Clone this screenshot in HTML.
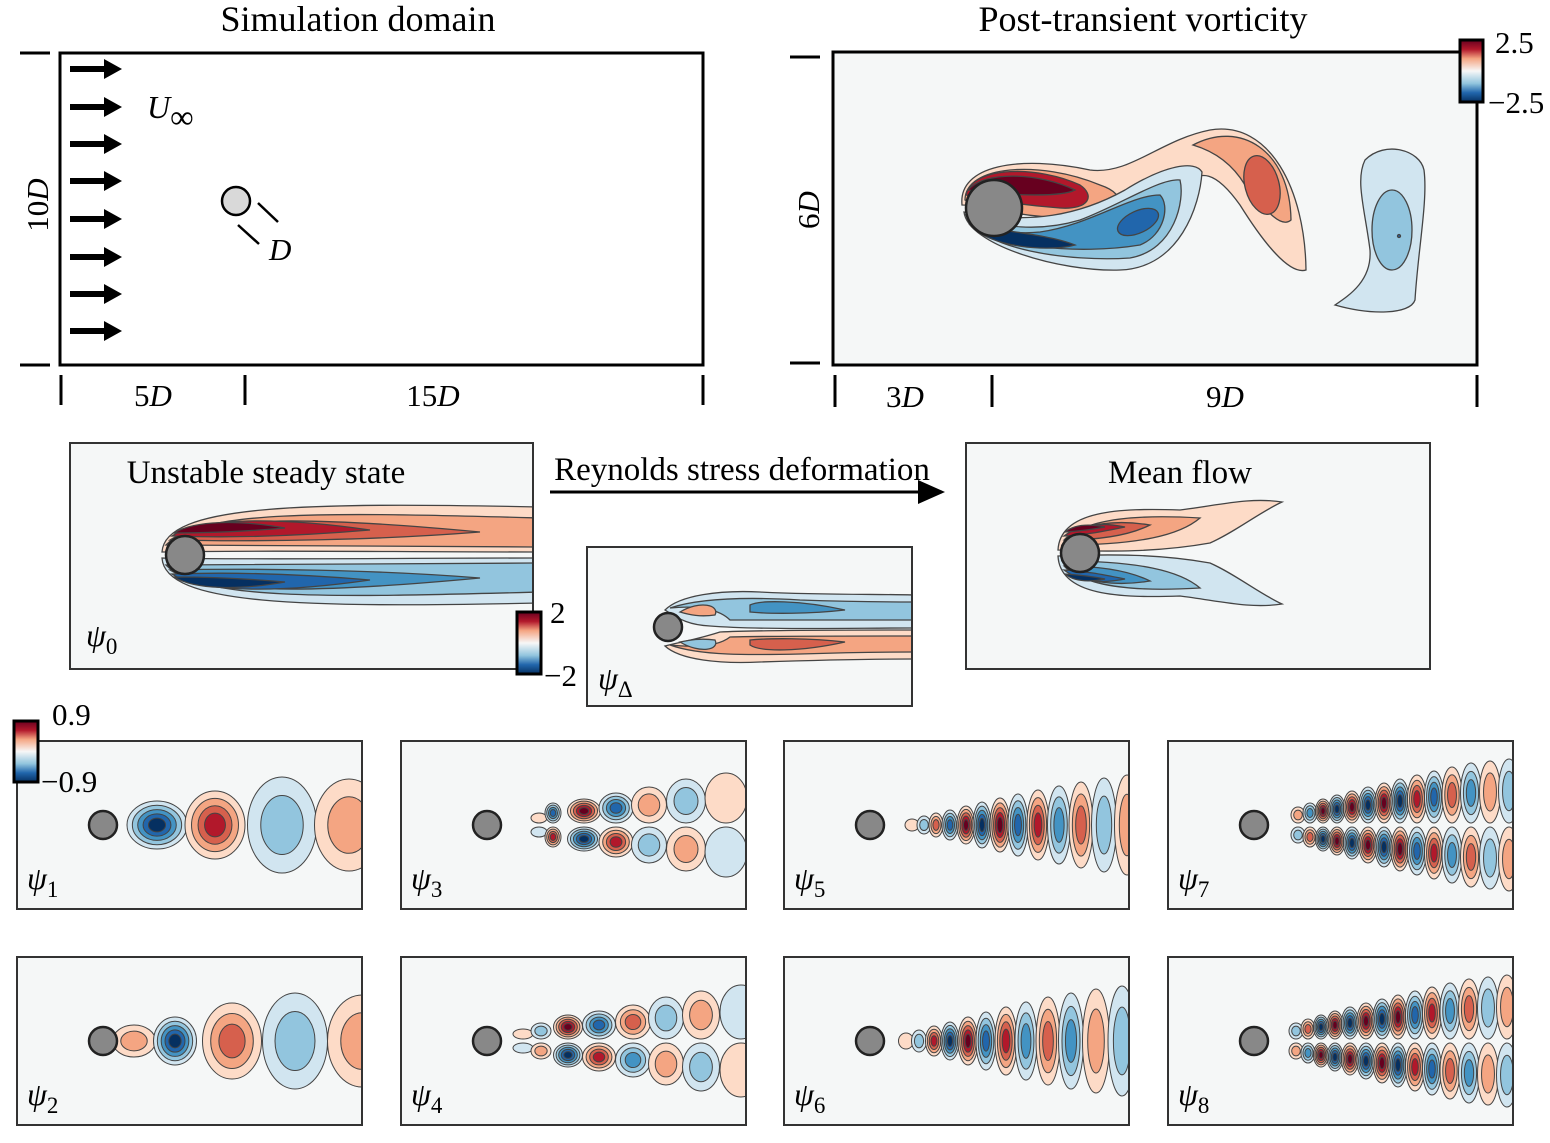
<!DOCTYPE html>
<html><head><meta charset="utf-8"><style>
html,body{margin:0;padding:0;background:#fff;}
svg{display:block;font-family:"Liberation Serif",serif;}
</style></head><body>
<svg id="fig" width="1550" height="1143" viewBox="0 0 1550 1143" xmlns="http://www.w3.org/2000/svg">
<defs>
<linearGradient id="cbar" x1="0" y1="0" x2="0" y2="1">
<stop offset="0" stop-color="#67001f"/><stop offset="0.15" stop-color="#b2182b"/><stop offset="0.3" stop-color="#f4a582"/><stop offset="0.5" stop-color="#f7f7f7"/><stop offset="0.7" stop-color="#92c5de"/><stop offset="0.85" stop-color="#2166ac"/><stop offset="1" stop-color="#053061"/>
</linearGradient>
<marker id="ah" markerWidth="10" markerHeight="10" refX="8" refY="5" orient="auto"><path d="M0,1 L9,5 L0,9 Z" fill="#000"/></marker>
</defs>

<!-- Simulation domain -->
<g>
<text x="358" y="31" font-size="36" text-anchor="middle">Simulation domain</text>
<rect x="60" y="53" width="643" height="312" fill="#fff" stroke="#000" stroke-width="3"/>
<line x1="20" y1="53" x2="50" y2="53" stroke="#000" stroke-width="3"/>
<line x1="20" y1="365" x2="50" y2="365" stroke="#000" stroke-width="3"/>
<text x="48" y="205" font-size="31" font-style="italic" text-anchor="middle" transform="rotate(-90 48 205)"><tspan font-style="normal">10</tspan>D</text>
<g id="arrows"></g>
<text x="147" y="118" font-size="32" font-style="italic">U<tspan font-style="normal" font-size="33" dy="10">∞</tspan></text>
<circle cx="236" cy="201" r="14" fill="#d9d9d9" stroke="#000" stroke-width="2.5"/>
<line x1="258" y1="203" x2="278" y2="222" stroke="#000" stroke-width="2.5"/>
<line x1="238" y1="225" x2="259" y2="244" stroke="#000" stroke-width="2.5"/>
<text x="269" y="260" font-size="31" font-style="italic">D</text>
<line x1="61" y1="375" x2="61" y2="405" stroke="#000" stroke-width="3"/>
<line x1="245" y1="375" x2="245" y2="405" stroke="#000" stroke-width="3"/>
<line x1="703" y1="375" x2="703" y2="405" stroke="#000" stroke-width="3"/>
<text x="153" y="406" font-size="31" text-anchor="middle">5<tspan font-style="italic">D</tspan></text>
<text x="433" y="406" font-size="31" text-anchor="middle">15<tspan font-style="italic">D</tspan></text>
</g>

<!-- Post-transient vorticity -->
<g>
<text x="1143" y="31" font-size="36" text-anchor="middle">Post-transient vorticity</text>
<clipPath id="cv"><rect x="833" y="52" width="644" height="313"/></clipPath>
<rect x="833" y="52" width="644" height="313" fill="#f5f7f7"/>
<g clip-path="url(#cv)" stroke="#444" stroke-width="1.3">
<path fill="#fddbc7" d="M962,205 C958,165 1020,155 1090,170 C1130,175 1160,140 1210,130 C1270,120 1305,190 1306,270 C1290,275 1265,245 1240,205 C1215,170 1200,170 1185,185 C1150,215 1100,222 1060,218 C1020,212 990,205 962,205 Z"/>
<path fill="#f4a582" d="M965,200 C965,165 1040,160 1100,185 C1130,195 1125,215 1075,218 C1030,218 990,210 965,200 Z"/>
<path fill="#f4a582" d="M1193,145 C1240,120 1290,150 1291,220 C1280,230 1262,205 1245,185 C1230,160 1210,150 1193,145 Z"/>
<ellipse cx="1262" cy="185" rx="17" ry="30" transform="rotate(-15 1262 185)" fill="#d6604d"/>
<path fill="#b2182b" d="M966,195 C972,165 1040,166 1080,185 C1095,195 1090,210 1060,208 C1020,205 990,200 966,195 Z"/>
<path fill="#67001f" d="M968,190 C985,170 1040,173 1075,190 C1060,198 1000,195 968,190 Z"/>
<path fill="#d1e5f0" d="M964,212 C968,245 1060,272 1120,270 C1180,268 1200,205 1202,172 C1195,160 1165,165 1125,190 C1080,215 1030,225 964,212 Z"/>
<path fill="#92c5de" d="M966,215 C980,250 1070,262 1130,258 C1175,250 1185,200 1180,180 C1160,178 1120,205 1080,220 C1040,232 1000,228 966,215 Z"/>
<path fill="#4393c3" d="M968,220 C990,248 1080,255 1140,245 C1165,235 1170,205 1160,195 C1130,195 1090,225 1040,232 C1010,235 985,228 968,220 Z"/>
<ellipse cx="1138" cy="222" rx="22" ry="11" transform="rotate(-25 1138 222)" fill="#2166ac"/>
<path fill="#053061" d="M970,225 C990,248 1050,252 1075,245 C1050,235 1010,232 970,225 Z"/>
<path fill="#d1e5f0" d="M1365,160 C1385,140 1420,150 1424,170 C1428,200 1418,250 1415,300 C1410,315 1370,315 1335,305 C1350,295 1372,280 1370,250 C1365,210 1355,180 1365,160 Z"/>
<ellipse cx="1392" cy="230" rx="20" ry="40" fill="#92c5de"/>
<circle cx="1399" cy="236" r="1.5" fill="#2166ac"/>
</g>
<circle cx="994" cy="208" r="28" fill="#888" stroke="#222" stroke-width="2.5"/>
<rect x="833" y="52" width="644" height="313" fill="none" stroke="#000" stroke-width="3"/>
<line x1="790" y1="57" x2="820" y2="57" stroke="#000" stroke-width="3"/>
<line x1="790" y1="363" x2="820" y2="363" stroke="#000" stroke-width="3"/>
<text x="819" y="210" font-size="31" font-style="italic" text-anchor="middle" transform="rotate(-90 819 210)"><tspan font-style="normal">6</tspan>D</text>
<line x1="835" y1="375" x2="835" y2="407" stroke="#000" stroke-width="3"/>
<line x1="992" y1="375" x2="992" y2="407" stroke="#000" stroke-width="3"/>
<line x1="1477" y1="375" x2="1477" y2="407" stroke="#000" stroke-width="3"/>
<text x="905" y="407" font-size="31" text-anchor="middle">3<tspan font-style="italic">D</tspan></text>
<text x="1225" y="407" font-size="31" text-anchor="middle">9<tspan font-style="italic">D</tspan></text>
<rect x="1460" y="40" width="23" height="62" fill="url(#cbar)" stroke="#000" stroke-width="3"/>
<text x="1495" y="53" font-size="31">2.5</text>
<text x="1488" y="113" font-size="31">−2.5</text>
</g>

<!-- Middle row -->
<g>
<clipPath id="cs"><rect x="70" y="443" width="463" height="226"/></clipPath>
<rect x="70" y="443" width="463" height="226" fill="#f5f7f7"/>
<g clip-path="url(#cs)" stroke="#444" stroke-width="1.3">
<path fill="#fddbc7" d="M162,552 C165,505 300,502 540,507 L540,552 C400,552 250,550 162,552 Z"/>
<path fill="#f4a582" d="M166,545 C200,510 320,512 540,518 L540,547 C400,546 260,546 166,545 Z"/>
<path fill="#d6604d" d="M170,540 C210,515 320,517 480,532 C380,540 260,542 170,540 Z"/>
<path fill="#b2182b" d="M172,536 C200,517 280,517 370,530 C300,536 230,538 172,536 Z"/>
<path fill="#67001f" d="M174,533 C195,520 240,520 285,528 C240,532 205,533 174,533 Z"/>
<path fill="#d1e5f0" d="M162,558 C165,605 300,608 540,603 L540,558 C400,558 250,560 162,558 Z"/>
<path fill="#92c5de" d="M166,565 C200,600 320,598 540,592 L540,563 C400,564 260,564 166,565 Z"/>
<path fill="#4393c3" d="M170,570 C210,595 320,593 480,578 C380,570 260,568 170,570 Z"/>
<path fill="#2166ac" d="M172,574 C200,593 280,593 370,580 C300,574 230,572 172,574 Z"/>
<path fill="#053061" d="M174,577 C195,590 240,590 285,582 C240,578 205,577 174,577 Z"/>
</g>
<circle cx="185" cy="555" r="19" fill="#888" stroke="#222" stroke-width="2.5"/>
<rect x="70" y="443" width="463" height="226" fill="none" stroke="#333" stroke-width="2"/>
<text x="266" y="483" font-size="33" text-anchor="middle">Unstable steady state</text>
<text x="86" y="646" font-size="32" font-style="italic">ψ<tspan font-style="normal" font-size="23" dy="8">0</tspan></text>
<rect x="517" y="612" width="24" height="62" fill="url(#cbar)" stroke="#000" stroke-width="3"/>
<text x="550" y="623" font-size="31">2</text>
<text x="544" y="686" font-size="31">−2</text>
</g>

<g>
<text x="742" y="480" font-size="33" text-anchor="middle">Reynolds stress deformation</text>
<line x1="550" y1="492" x2="942" y2="492" stroke="#000" stroke-width="3" marker-end="url(#ah)"/>
</g>

<g>
<clipPath id="cd"><rect x="587" y="547" width="325" height="159"/></clipPath>
<rect x="587" y="547" width="325" height="159" fill="#f5f7f7"/>
<g clip-path="url(#cd)" stroke="#444" stroke-width="1.3">
<path fill="#d1e5f0" d="M665,610 C680,595 720,590 760,592 C820,595 880,594 915,595 L915,628 C850,628 760,630 710,626 C690,625 680,620 665,610 Z"/>
<path fill="#92c5de" d="M670,608 C700,598 750,597 800,600 C860,602 890,602 915,602 L915,620 C850,620 760,620 730,620 C720,610 700,605 670,608 Z"/>
<path fill="#4393c3" d="M750,605 C760,600 800,600 845,610 C810,614 770,614 750,612 Z"/>
<path fill="#f4a582" d="M680,612 C700,600 720,605 715,615 C700,617 690,615 680,612 Z"/>
<path fill="#fddbc7" d="M665,646 C680,660 720,664 760,662 C820,660 880,659 915,659 L915,630 C850,630 760,630 720,632 C695,640 680,642 665,646 Z"/>
<path fill="#f4a582" d="M670,645 C700,656 750,655 800,654 C860,652 890,652 915,652 L915,636 C850,636 760,636 730,637 C720,645 700,648 670,645 Z"/>
<path fill="#d6604d" d="M750,645 C760,652 800,652 845,642 C810,638 770,638 750,640 Z"/>
<path fill="#92c5de" d="M680,642 C700,654 720,650 715,640 C700,638 690,640 680,642 Z"/>
</g>
<circle cx="668" cy="627" r="14" fill="#888" stroke="#222" stroke-width="2.5"/>
<rect x="587" y="547" width="325" height="159" fill="none" stroke="#333" stroke-width="2"/>
<text x="598" y="689" font-size="32" font-style="italic">ψ<tspan font-style="normal" font-size="23" dy="8">Δ</tspan></text>
</g>

<g>
<rect x="966" y="443" width="464" height="226" fill="#f5f7f7" stroke="#333" stroke-width="2"/>
<g stroke="#444" stroke-width="1.3">
<path fill="#fddbc7" d="M1058,550 C1060,510 1120,508 1180,510 C1220,505 1250,497 1282,502 C1260,512 1235,532 1210,543 C1160,552 1110,552 1058,550 Z"/>
<path fill="#f4a582" d="M1062,545 C1080,515 1150,515 1200,518 C1180,535 1140,545 1062,545 Z"/>
<path fill="#d6604d" d="M1064,540 C1080,522 1120,520 1150,525 C1130,535 1100,540 1064,540 Z"/>
<path fill="#b2182b" d="M1064,536 C1080,524 1100,522 1125,527 C1100,532 1085,535 1064,536 Z"/>
<path fill="#67001f" d="M1065,532 C1075,524 1090,524 1105,527 C1090,530 1080,531 1065,532 Z"/>
<path fill="#d1e5f0" d="M1058,556 C1060,596 1120,598 1180,596 C1220,601 1250,609 1282,604 C1260,594 1235,574 1210,563 C1160,554 1110,554 1058,556 Z"/>
<path fill="#92c5de" d="M1062,561 C1080,591 1150,591 1200,588 C1180,571 1140,561 1062,561 Z"/>
<path fill="#4393c3" d="M1064,566 C1080,584 1120,586 1150,581 C1130,571 1100,566 1064,566 Z"/>
<path fill="#2166ac" d="M1064,570 C1080,582 1100,584 1125,579 C1100,574 1085,571 1064,570 Z"/>
<path fill="#053061" d="M1065,574 C1075,582 1090,582 1105,579 C1090,576 1080,575 1065,574 Z"/>
</g>
<circle cx="1080" cy="553" r="19" fill="#888" stroke="#222" stroke-width="2.5"/>
<text x="1180" y="483" font-size="33" text-anchor="middle">Mean flow</text>
</g>

<g id="modes"></g>
<g>
<rect x="14" y="721" width="24" height="61" fill="url(#cbar)" stroke="#000" stroke-width="3"/>
<text x="52" y="725" font-size="31">0.9</text>
<text x="41" y="792" font-size="31">−0.9</text>
</g>
</svg>
<script>
// ---- mode data (box-relative x, half-height, etc.) ----
const modeLabels = ["1","2","3","4","5","6","7","8"];
const modeX = [
 [140,198,265,332],
 [117,158,215,278,345],
 [138,152,183,215,248,285,325],
 [122,140,167,198,232,265,300,340],
 [128,140,152,166,182,198,216,234,254,275,297,320,343],
 [122,135,150,166,184,202,222,242,264,287,312,338],
 [130,142,155,169,184,200,216,232,249,266,284,303,322,341],
 [128,140,153,167,182,198,214,230,247,264,282,301,320,339]
];
const modeSign = [
 [-1,1,-1,1],[1,-1,1,-1,1],[1,-1,1,-1,1,-1,1],[1,-1,1,-1,1,-1,1,-1],
 [1,-1,1,-1,1,-1,1,-1,1,-1,1,-1,1],[1,-1,1,-1,1,-1,1,-1,1,-1,1,-1],
 [1,-1,1,-1,1,-1,1,-1,1,-1,1,-1,1,-1],[-1,1,-1,1,-1,1,-1,1,-1,1,-1,1,-1,1]
];
const modeHalfH = [
 [24,34,48,46],[16,24,38,48,46],[5,10,12,15,18,22,25],[5,8,12,14,17,21,24,27],
 [6,9,12,15,19,23,27,31,35,39,43,47,50],[8,11,15,19,24,29,34,39,44,48,52,55],
 [8,10,12,14,16,18,20,22,24,26,28,30,31,32],[8,10,12,14,16,18,20,22,24,26,28,30,31,32]
];
const modeLevels = [
 [5,4,2,2],[2,5,3,2,2],[1,4,5,4,2,2,1],[1,2,5,4,3,2,2,1],
 [1,2,3,4,5,5,5,4,4,3,3,2,2],[1,2,4,5,5,4,4,3,3,3,2,2],
 [2,3,5,5,5,5,5,5,4,4,3,3,2,2],[2,3,5,5,5,5,5,5,4,4,3,3,2,2]
];
const modeRows = [1,1,2,2,1,1,2,2];

const POS = ["#fddbc7","#f4a582","#d6604d","#b2182b","#67001f"];
const NEG = ["#d1e5f0","#92c5de","#4393c3","#2166ac","#053061"];
const NS = "http://www.w3.org/2000/svg";
function mk(tag, attrs, parent){const e=document.createElementNS(NS,tag);for(const k in attrs)e.setAttribute(k,attrs[k]);parent.appendChild(e);return e;}

// arrows
const ag=document.getElementById('arrows');
[69,107,144,181,219,257,294,331].forEach(y=>{
  const p=mk('path',{d:`M70,${y-3} L104,${y-3} L104,${y-10} L122,${y} L104,${y+10} L104,${y+3} L70,${y+3} Z`,fill:'#000'},ag);
  
  
});

const boxW=345, boxH=168;
const colX=[17,401,784,1168], rowY=[741,957];
function xScale(b,v){return b+v;}
function blob(g,cx,cy,hw,hh,sign,lev){
  const cols=sign>0?POS:NEG;
  for(let i=0;i<lev;i++){
    const f=1-i/(lev+0.6);
    const w=hw*f, h=hh*f;
    mk('ellipse',{cx:cx,cy:cy,rx:w,ry:h,fill:cols[i],stroke:'#444','stroke-width':1},g);
  }
}
const mg=document.getElementById('modes');
modeLabels.forEach((lab,m)=>{
  const col=Math.floor(m/2), row=m%2;
  const bx=colX[col], by=rowY[row];
  const g=mk('g',{},mg);
  
  
  const cid='cm'+m;
  const cp=mk('clipPath',{id:cid},g); mk('rect',{x:bx,y:by,width:boxW,height:boxH},cp);
  mk('rect',{x:bx,y:by,width:boxW,height:boxH,fill:'#f5f7f7'},g);
  const f=mk('g',{'clip-path':`url(#${cid})`},g);
  const cy=by+84;
  const xs=modeX[m];
  xs.forEach((xv,i)=>{
    const x=xScale(bx,xv);
    const nx=i<xs.length-1?xs[i+1]-xv:(xv-xs[i-1]);
    const px=i>0?xv-xs[i-1]:nx;
    const hw=Math.min(nx,px)*0.5+1;
    const hh=modeHalfH[m][i], s=modeSign[m][i], lv=modeLevels[m][i];
    if(modeRows[m]===1){ blob(f,x,cy,hw,hh,s,lv); }
    else{
      const off=hh+2;
      blob(f,x,cy-off,hw,hh,s,lv);
      blob(f,x,cy+off,hw,hh,-s,lv);
    }
  });
  const c=mk('circle',{cx:bx+86,cy:cy,r:14,fill:'#888',stroke:'#222','stroke-width':2.5},g);
  
  
  mk('rect',{x:bx,y:by,width:boxW,height:boxH,fill:'none',stroke:'#333','stroke-width':2},g);
  const t=mk('text',{x:bx+10,y:by+148,'font-size':32,'font-style':'italic'},g);
  
  
  t.textContent='ψ';
  const ts=mk('tspan',{'font-style':'normal','font-size':23,dy:8},t); ts.textContent=lab;
});
</script>
</body></html>
